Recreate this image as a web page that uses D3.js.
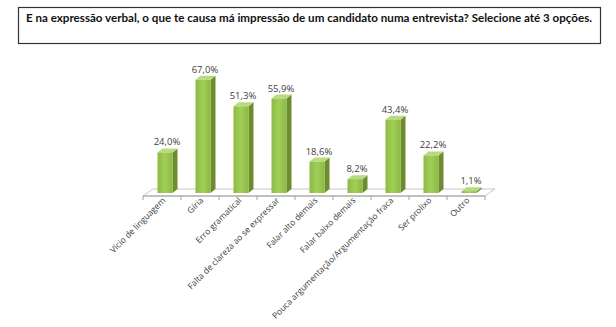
<!DOCTYPE html>
<html><head><meta charset="utf-8">
<script src="https://cdn.jsdelivr.net/npm/d3@7/dist/d3.min.js"></script>
<style>body{margin:0;background:#fff}svg{display:block}</style>
</head><body>
<script>
const title = "E na expressão verbal, o que te causa má impressão de um candidato  numa entrevista? Selecione até 3 opções.";
const categories = ["Vício de linguagem","Gíria","Erro gramatical","Falta de clareza ao se expressar","Falar alto demais","Falar baixo demais","Pouca argumentação/Argumentação fraca","Ser prolixo","Outro"];
const values = [24.0,67.0,51.3,55.9,18.6,8.2,43.4,22.2,1.1];
const valueLabels = ["24,0%","67,0%","51,3%","55,9%","18,6%","8,2%","43,4%","22,2%","1,1%"];

const W=616,H=327;
const svg=d3.select("body").append("svg").attr("width",W).attr("height",H);

// title box
svg.append("rect").attr("x",18.5).attr("y",7.5).attr("width",582).attr("height",36)
  .attr("fill","#fff").attr("stroke","#333").attr("stroke-width",1.2);
svg.append("text").attr("x",26).attr("y",22).attr("font-family","Lato, 'Open Sans', sans-serif")
  .attr("font-weight","bold").attr("font-size",10.5).attr("fill","#111")
  .attr("textLength",566).attr("lengthAdjust","spacingAndGlyphs").text(title);

const x=d3.scaleBand().domain(categories).range([143,485]).paddingInner(0).paddingOuter(0);
const y=d3.scaleLinear().domain([0,100]).range([193,24]);
const dx=5, dy=4, bw=15;
const floorDx=10, floorDy=7, floorFront=196;

const defs=svg.append("defs");
const g1=defs.append("linearGradient").attr("id","front").attr("x1",0).attr("x2",1).attr("y1",0).attr("y2",0);
g1.append("stop").attr("offset","0%").attr("stop-color","#8DBA45");
g1.append("stop").attr("offset","50%").attr("stop-color","#A2CF58");
g1.append("stop").attr("offset","100%").attr("stop-color","#8CB845");

// floor
const fl=svg.append("g").attr("fill","none").attr("stroke","#c8c8c8").attr("stroke-width",1);
const r0=x.range()[0], r1=x.range()[1];
fl.append("path").attr("d",`M${r0},${floorFront}L${r0+floorDx},${floorFront-floorDy}L${r1+floorDx},${floorFront-floorDy}L${r1},${floorFront}Z`)
  .attr("fill","#fff");
fl.append("line").attr("x1",r0).attr("x2",r1).attr("y1",floorFront).attr("y2",floorFront).attr("stroke","#a0a0a0");
const ticks=categories.map(c=>x(c)).concat([r1]);
fl.selectAll(".tk").data(ticks).join("line").attr("x1",d=>d).attr("x2",d=>d)
  .attr("y1",floorFront).attr("y2",floorFront+4).attr("stroke","#a0a0a0");

// bars
const bars=svg.append("g").selectAll("g").data(categories).join("g");
const bx=c=>x(c)+(x.bandwidth()-bw)/2+3;
bars.append("path").attr("fill","#6C8C2E")
  .attr("d",(c,i)=>{const X=bx(c)+bw,Y0=y(0),Y1=y(values[i]);return `M${X},${Y1}L${X+dx},${Y1-dy}L${X+dx},${Y0-dy}L${X},${Y0}Z`;});
bars.append("path").attr("fill","#B9DA7E")
  .attr("d",(c,i)=>{const X=bx(c),Y1=y(values[i]);return `M${X},${Y1}L${X+dx},${Y1-dy}L${X+bw+dx},${Y1-dy}L${X+bw},${Y1}Z`;});
bars.append("rect").attr("fill","url(#front)")
  .attr("x",c=>bx(c)).attr("y",(c,i)=>y(values[i])).attr("width",bw).attr("height",(c,i)=>y(0)-y(values[i]));

// value labels
svg.append("g").selectAll("text").data(categories).join("text")
  .attr("x",c=>bx(c)+bw/2+2).attr("y",(c,i)=>y(values[i])-dy-3)
  .attr("text-anchor","middle").attr("font-family","'Open Sans', sans-serif").attr("font-size",9.5)
  .attr("fill","#404040").text((c,i)=>valueLabels[i]);

// category labels
svg.append("g").selectAll("text").data(categories).join("text")
  .attr("transform",c=>`translate(${x(c)+x.bandwidth()/2+4},${floorFront+5}) rotate(-45)`)
  .attr("text-anchor","end").attr("font-family","'Open Sans', sans-serif").attr("font-size",8.5)
  .attr("fill","#404040").text(c=>c);
</script>
</body></html>
